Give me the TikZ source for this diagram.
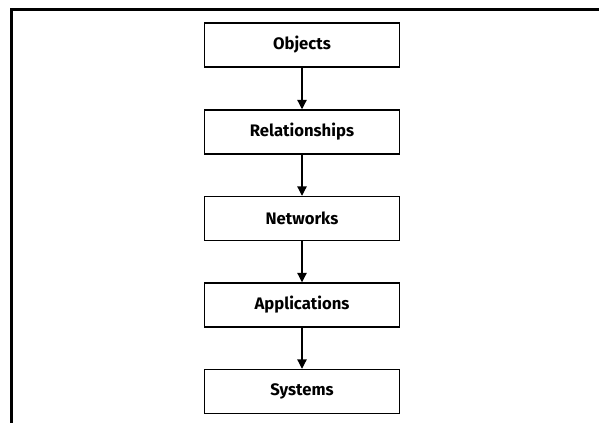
\documentclass[tikz,border=0pt]{standalone}
\usepackage{fontspec}
\setmainfont{Fira Sans}
\usetikzlibrary{arrows.meta}
\begin{document}
\begin{tikzpicture}[x=0.75pt, y=-0.75pt, every node/.style={font=\bfseries\fontsize{12.5}{14}\selectfont}, >={Triangle[width=7pt,length=7pt]}]
  \useasboundingbox (0,0) rectangle (599,423);
  \draw[line width=2.4pt] (599,9.5) -- (11.5,9.5) -- (11.5,423);

  \tikzset{level/.style={draw, line width=1.1pt, minimum width=146pt, minimum height=33pt, inner sep=0pt}}

  \node[level] (obj) at (302,45) {Objects};
  \node[level] (rel) at (302,132) {Relationships};
  \node[level] (net) at (302,218.5) {Networks};
  \node[level] (app) at (302,305) {Applications};
  \node[level] (sys) at (302,391.5) {Systems};

  \draw[->, line width=0.9pt] (obj) -- (rel);
  \draw[->, line width=0.9pt] (rel) -- (net);
  \draw[->, line width=0.9pt] (net) -- (app);
  \draw[->, line width=0.9pt] (app) -- (sys);
\end{tikzpicture}
\end{document}
